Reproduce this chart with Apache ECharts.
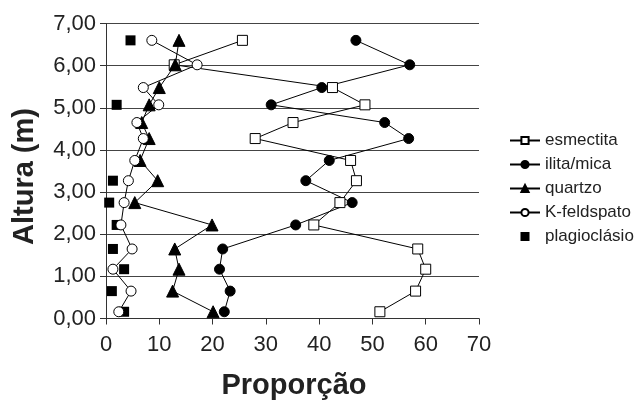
<!DOCTYPE html>
<html>
<head>
<meta charset="utf-8">
<script src="https://cdn.jsdelivr.net/npm/echarts@6/dist/echarts.min.js"></script>
<style>html,body{margin:0;padding:0;background:#fff}#c{width:637px;height:405px}</style>
</head>
<body>
<div id="c"></div>
<script>
const heights = [0.16, 0.65, 1.17, 1.65, 2.22, 2.75, 3.27, 3.75, 4.27, 4.65, 5.07, 5.48, 6.02, 6.6];
const esmectita = [51.4, 58.1, 60.0, 58.5, 39.0, 43.9, 47.0, 45.9, 28.0, 35.1, 48.6, 42.5, 12.8, 25.6];
const ilita = [22.2, 23.3, 21.3, 21.9, 35.6, 46.2, 37.5, 41.9, 56.8, 52.3, 31.0, 40.5, 57.0, 46.9];
const quartzo = [20.1, 12.5, 13.7, 12.9, 19.9, 5.4, 9.7, 6.4, 8.1, 6.7, 8.1, 10.0, 13.0, 13.7];
const kfeld = [2.4, 4.7, 1.3, 4.9, 2.8, 3.4, 4.2, 5.4, 7.0, 5.8, 9.9, 7.0, 17.1, 8.6];
const plagioHeights = [0.16, 0.65, 1.17, 1.65, 2.22, 2.75, 3.27, 5.07, 6.6];
const plagio = [3.4, 1.1, 3.4, 1.3, 2.0, 0.6, 1.3, 2.0, 4.6];
const seriesNames = ['esmectita', 'ilita/mica', 'quartzo', 'K-feldspato', 'plagioclásio'];
const xTicks = [0, 10, 20, 30, 40, 50, 60, 70];
const yTicks = [0, 1, 2, 3, 4, 5, 6, 7];
const xTitle = 'Proporção';
const yTitle = 'Altura (m)';

const pairs = (xs, ys) => xs.map((v, i) => [v, ys[i]]);
const FONT = 'Liberation Sans, Arial, sans-serif';
const SQ = 'path://M0,0h10v10h-10z';
const lineSeries = (name, vals, symbol, size, fill) => ({
  name, type: 'line', data: pairs(vals, heights), symbol, symbolSize: size,
  showAllSymbol: true,
  lineStyle: { color: '#000', width: 1 },
  itemStyle: { color: fill, borderColor: '#000', borderWidth: 1, opacity: 1 },
  emphasis: { disabled: true }, animation: false
});

const chart = echarts.init(document.getElementById('c'));
chart.setOption({
  animation: false,
  grid: { left: 106, top: 23.5, width: 373, height: 295 },
  xAxis: {
    type: 'value', min: 0, max: 70, interval: 10,
    axisLine: { lineStyle: { color: '#333', width: 1 } },
    axisTick: { show: true, length: 6, lineStyle: { color: '#333' } },
    axisLabel: { fontFamily: FONT, fontSize: 22, color: '#222', margin: 15,
      formatter: v => xTicks.includes(v) ? String(v) : '' },
    splitLine: { show: false }
  },
  yAxis: {
    type: 'value', min: 0, max: 7, interval: 1,
    axisLine: { show: true, lineStyle: { color: '#333', width: 1 } },
    axisTick: { show: true, length: 6, lineStyle: { color: '#333' } },
    axisLabel: { fontFamily: FONT, fontSize: 22, color: '#222', margin: 10,
      formatter: v => yTicks.includes(v) ? v.toFixed(2).replace('.', ',') : '' },
    splitLine: { show: true, lineStyle: { color: '#444', width: 1 } }
  },
  graphic: [
    { type: 'text', x: 294, y: 386,
      style: { text: xTitle, font: 'bold 29px ' + FONT, fill: '#222', textAlign: 'center', textVerticalAlign: 'middle' } },
    { type: 'text', rotation: Math.PI / 2, x: 25, y: 176.5,
      style: { text: yTitle, font: 'bold 29px ' + FONT, fill: '#222', textAlign: 'center', textVerticalAlign: 'middle' } }
  ],
  legend: {
    orient: 'vertical', left: 509, top: 132, padding: 0, itemWidth: 30, itemHeight: 9, itemGap: 7,
    textStyle: { fontFamily: FONT, fontSize: 17, color: '#222' },
    data: seriesNames.slice(0, 4).map(n => ({ name: n })).concat([{ name: seriesNames[4], icon: SQ }])
  },
  series: [
    lineSeries(seriesNames[0], esmectita, 'rect', 10, '#fff'),
    lineSeries(seriesNames[1], ilita, 'circle', 10, '#000'),
    lineSeries(seriesNames[2], quartzo, 'triangle', 12, '#000'),
    lineSeries(seriesNames[3], kfeld, 'circle', 10, '#fff'),
    { name: seriesNames[4], type: 'scatter', data: pairs(plagio, plagioHeights),
      symbol: SQ, symbolSize: 10, symbolKeepAspect: true,
      itemStyle: { color: '#000', opacity: 1 },
      emphasis: { disabled: true }, animation: false }
  ]
});
</script>
</body>
</html>
